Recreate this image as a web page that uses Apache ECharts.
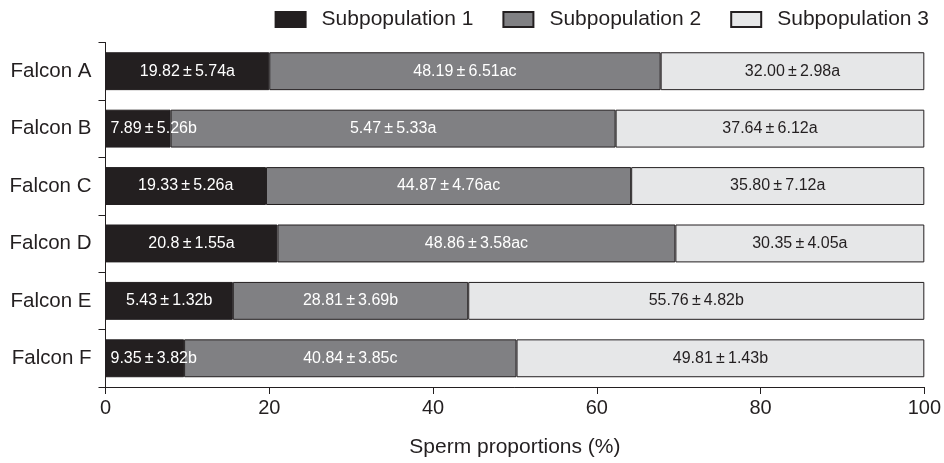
<!DOCTYPE html>
<html>
<head>
<meta charset="utf-8">
<script src="https://cdn.jsdelivr.net/npm/echarts@6/dist/echarts.min.js"></script>
<style>html,body{margin:0;padding:0;background:#fff}#c{width:944px;height:463px}</style>
</head>
<body>
<div id="c"></div>
<script>
var categories = ["Falcon A", "Falcon B", "Falcon C", "Falcon D", "Falcon E", "Falcon F"];
var seriesNames = ["Subpopulation 1", "Subpopulation 2", "Subpopulation 3"];
var sub1 = [20.0, 7.95, 19.6, 21.0, 15.55, 9.6];
var sub2 = [47.8, 54.35, 44.6, 48.6, 28.75, 40.6];
var sub3 = [32.2, 37.7, 35.8, 30.4, 55.7, 49.8];
var labels1 = ["19.82 ± 5.74a", "7.89 ± 5.26b", "19.33 ± 5.26a", "20.8 ± 1.55a", "5.43 ± 1.32b", "9.35 ± 3.82b"];
var labels2 = ["48.19 ± 6.51ac", "5.47 ± 5.33a", "44.87 ± 4.76ac", "48.86 ± 3.58ac", "28.81 ± 3.69b", "40.84 ± 3.85c"];
var labels3 = ["32.00 ± 2.98a", "37.64 ± 6.12a", "35.80 ± 7.12a", "30.35 ± 4.05a", "55.76 ± 4.82b", "49.81 ± 1.43b"];
var leftAligned1 = [false, true, false, false, false, true];
var xTicks = [0, 20, 40, 60, 80, 100];

var ink = '#231f20';
var colors = ['#231f20', '#808083', '#e6e7e8'];
var labelColors = ['#ffffff', '#ffffff', '#231f20'];
var allValues = [sub1, sub2, sub3];
var allLabels = [labels1, labels2, labels3];

function fmt(s) { return s.replace(/ ± /g, '\u2009±\u2009'); }

var series = seriesNames.map(function (name, si) {
  return {
    name: name,
    type: 'bar',
    stack: 'total',
    barCategoryGap: '34%',
    itemStyle: { color: colors[si], borderColor: ink, borderWidth: 1 },
    label: {
      show: true,
      position: 'inside',
      color: labelColors[si],
      fontSize: 16,
      fontFamily: 'Liberation Sans, Arial, sans-serif',
      formatter: function (p) { return fmt(allLabels[si][p.dataIndex]); }
    },
    emphasis: { disabled: true },
    data: allValues[si].map(function (v, i) {
      var d = { value: v };
      if (si === 0 && leftAligned1[i]) {
        d.label = { position: 'insideLeft', distance: 5 };
      }
      return d;
    })
  };
});

var chart = echarts.init(document.getElementById('c'), null, { renderer: 'canvas' });
chart.setOption({
  animation: false,
  textStyle: { fontFamily: 'Liberation Sans, Arial, sans-serif' },
  legend: {
    data: seriesNames,
    right: 15,
    top: 9,
    padding: 0,
    itemWidth: 30,
    itemHeight: 15,
    itemGap: 29,
    icon: 'rect',
    textStyle: { fontSize: 21, color: ink, padding: [0, 0, 0, 11] }
  },
  grid: { left: 105.5, right: 15, top: 42.5, bottom: 69.5, containLabel: false },
  xAxis: {
    type: 'value',
    min: xTicks[0],
    max: xTicks[xTicks.length - 1],
    interval: 20,
    name: 'Sperm proportions (%)',
    nameLocation: 'middle',
    nameGap: 50,
    nameTextStyle: { fontSize: 21, color: ink },
    axisLine: { show: true, lineStyle: { color: ink, width: 1 } },
    axisTick: { show: true, length: 7, lineStyle: { color: ink } },
    axisLabel: { fontSize: 20, color: ink, margin: 11 },
    splitLine: { show: false }
  },
  yAxis: {
    type: 'category',
    data: categories,
    inverse: true,
    axisLine: { show: true, lineStyle: { color: ink, width: 1 } },
    axisTick: { show: true, length: 7, alignWithLabel: false, lineStyle: { color: ink } },
    axisLabel: { fontSize: 20.5, color: ink, margin: 14 },
    splitLine: { show: false }
  },
  series: series
});
</script>
</body>
</html>
